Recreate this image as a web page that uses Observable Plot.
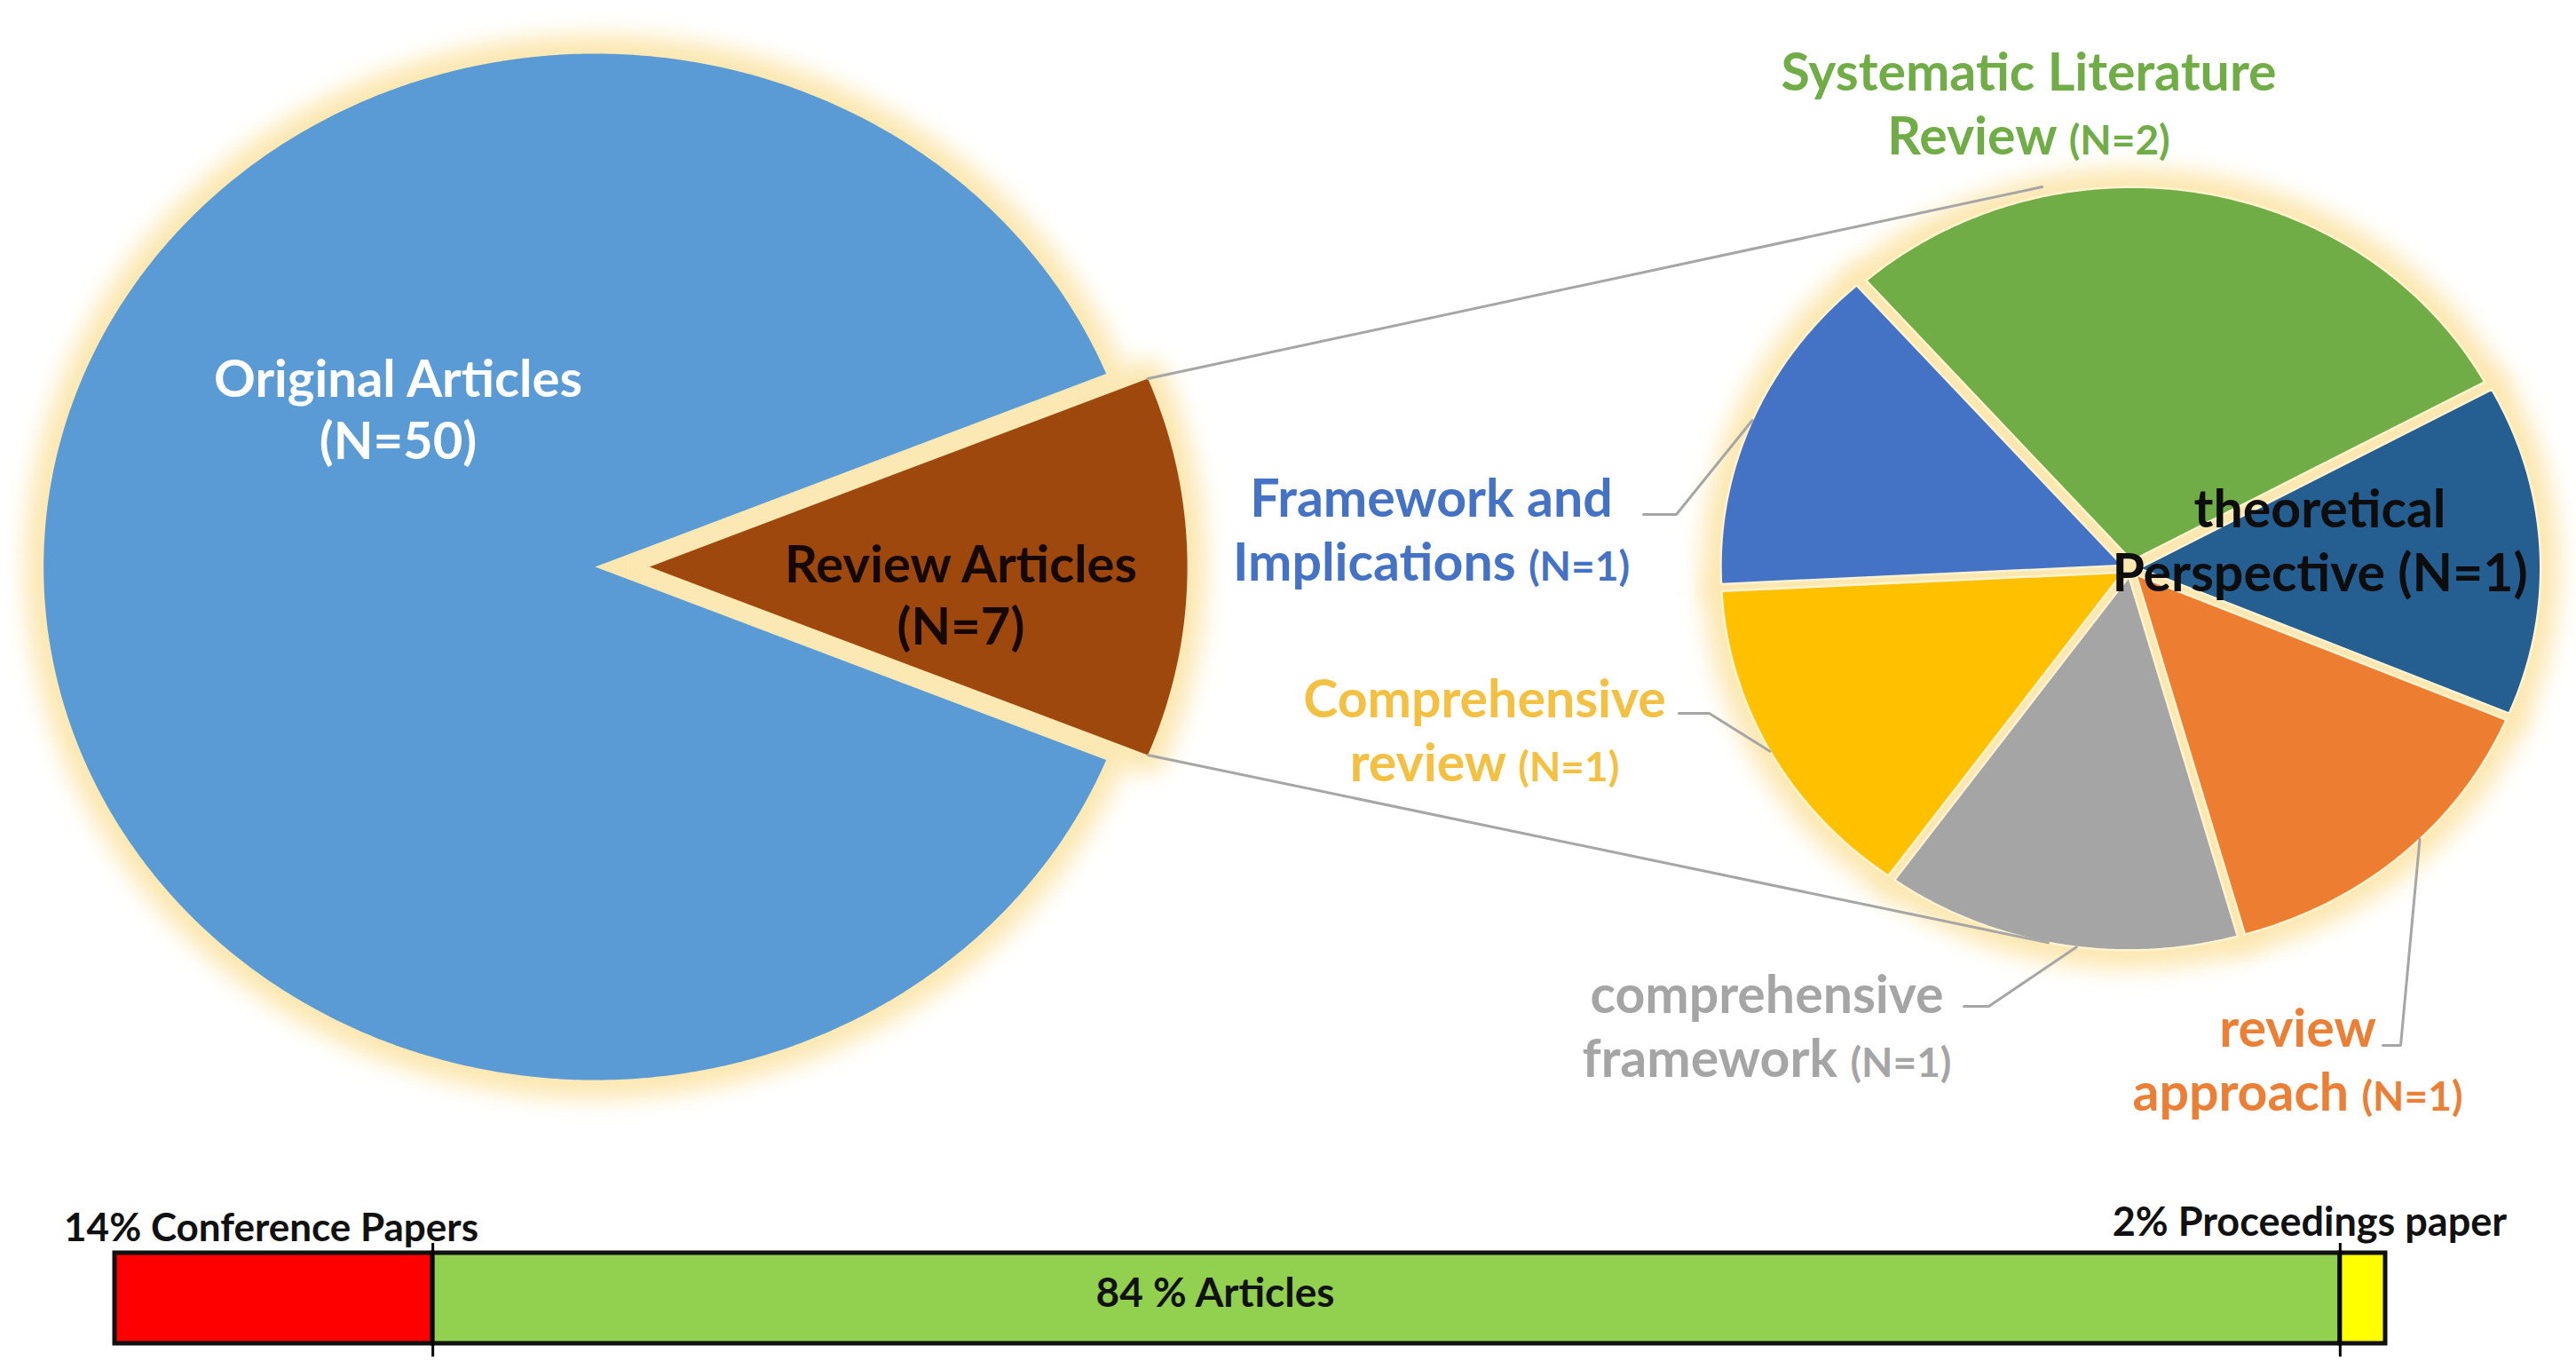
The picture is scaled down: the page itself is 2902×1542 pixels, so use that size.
<!DOCTYPE html>
<html>
<head>
<meta charset="utf-8">
<script src="https://cdn.jsdelivr.net/npm/d3@7"></script>
<script src="https://cdn.jsdelivr.net/npm/@observablehq/plot@0.6"></script>
<style>
  html, body { margin: 0; padding: 0; background: #ffffff; }
  #chart svg { display: block; }
</style>
</head>
<body>
<div id="chart"></div>
<script>
// ---------------- DATA ----------------
const mainCategories = ["Review Articles", "Original Articles"];
const mainCounts = [7, 50];

const reviewCategories = [
  "Systematic Literature Review",
  "theoretical Perspective",
  "review approach",
  "comprehensive framework",
  "Comprehensive review",
  "Framework and Implications"
];
const reviewCounts = [2, 1, 1, 1, 1, 1];

const sourceTypes = ["Conference Papers", "Articles", "Proceedings paper"];
const sourceShares = [14, 84, 2];

// ---------------- STYLES ----------------
const mainColors = { "Review Articles": "#9e480e", "Original Articles": "#5b9bd5" };
const mainTextColors = { "Review Articles": "#140800", "Original Articles": "#ffffff" };
const reviewColors = {
  "Systematic Literature Review": "#70ad47",
  "theoretical Perspective": "#255e91",
  "review approach": "#ed7d31",
  "comprehensive framework": "#a5a5a5",
  "Comprehensive review": "#ffc000",
  "Framework and Implications": "#4472c4"
};
const reviewTextColors = {
  "Systematic Literature Review": "#70ad47",
  "theoretical Perspective": "#0d0d0d",
  "review approach": "#ea7f35",
  "comprehensive framework": "#a5a5a5",
  "Comprehensive review": "#f4c042",
  "Framework and Implications": "#4472c4"
};
const sourceColors = { "Conference Papers": "#ff0000", "Articles": "#92d050", "Proceedings paper": "#ffff00" };
const GLOW = "#fce7b0";
const LINE_GRAY = "#a6a6a6";
const FONT = "Lato, 'Open Sans', sans-serif";

// ---------------- LAYOUT ----------------
const W = 2902, PIE_H = 1340, BAR_H = 202;
const STRETCH = 1.075; // horizontal stretch of the original picture

const mainPie = {
  cx: 670, cy: 638, r: 578,
  firstCenterDeg: 90,
  explode: { "Review Articles": 57 },
  radiusScale: { "Review Articles": 0.975 }
};
const detailPie = {
  cx: 2399.5, cy: 640, r: 421,
  firstCenterDeg: 10,
  explodeAll: 9
};

const mainLabelLayout = {
  "Original Articles": { x: 448, y: 459 },
  "Review Articles":   { x: 1082, y: 668 }
};
const detailLabelLayout = {
  "Systematic Literature Review": { x: 2285, y: 114, wrap: 2 },
  "theoretical Perspective":      { x: 2613, y: 606, wrap: 1, plainCount: true },
  "review approach":              { x: 2588, y: 1191, wrap: 1, leader: { dx: 96, dy: -14, elbow: 20, angleOffsetDeg: -3.5 } },
  "comprehensive framework":      { x: 1990, y: 1153, wrap: 1, leader: { dx: 222, dy: -20, elbow: 28, angleOffsetDeg: -2.5 } },
  "Comprehensive review":         { x: 1672, y: 820, wrap: 1, leader: { dx: 219, dy: -17, elbow: 34, angleOffsetDeg: 0 } },
  "Framework and Implications":   { x: 1612, y: 594, wrap: 2, leader: { dx: 239, dy: -15, elbow: 37, angleOffsetDeg: 0 } }
};
const connectors = [
  { corner: "start", angleDeg: -12.6, rScale: 1.025 },
  { corner: "end",   angleDeg: 191.6, rScale: 1.0 }
];

const bar = { left: 129, right: 2687, top: 71, bottom: 173 };
const barLabelLayout = {
  "Conference Papers": { dx: -3,   anchor: "top",    dy: -28, size: 44, sep: "% " },
  "Articles":          { dx: -193, anchor: "middle", dy: -5,  size: 46, sep: " % " },
  "Proceedings paper": { dx: -60,  anchor: "top",    dy: -34, size: 45, sep: "% " }
};

// ---------------- GEOMETRY ----------------
const rad = d => d * Math.PI / 180;

function buildSlices(categories, counts, P) {
  const total = d3.sum(counts);
  const start = rad(P.firstCenterDeg) - Math.PI * counts[0] / total;
  const arcs = d3.pie().sort(null).value(d => d.n)
    .startAngle(start).endAngle(start + 2 * Math.PI)(
      categories.map((c, i) => ({ c, n: counts[i] }))
    );
  return arcs.map(a => {
    const mid = (a.startAngle + a.endAngle) / 2;
    const e = (P.explode && P.explode[a.data.c]) ?? P.explodeAll ?? 0;
    const ox = P.cx + e * Math.sin(mid) * STRETCH;
    const oy = P.cy - e * Math.cos(mid);
    const r = P.r * ((P.radiusScale && P.radiusScale[a.data.c]) ?? 1);
    const at = (t, k = 1) => ({ x: ox + r * k * STRETCH * Math.sin(t), y: oy - r * k * Math.cos(t) });
    const n = Math.max(8, Math.ceil((a.endAngle - a.startAngle) / rad(0.5)));
    const pts = [{ x: ox, y: oy }];
    for (let k = 0; k <= n; k++) pts.push(at(a.startAngle + (a.endAngle - a.startAngle) * k / n));
    pts.push({ x: ox, y: oy });
    return { cat: a.data.c, n: a.data.n, start: a.startAngle, end: a.endAngle, mid, ox, oy, r, at, pts };
  });
}

const mainSlices = buildSlices(mainCategories, mainCounts, mainPie);
const detailSlices = buildSlices(reviewCategories, reviewCounts, detailPie);

function sliceAtAngle(slices, t) {
  const s0 = slices[0].start;
  const tt = ((t - s0) % (2 * Math.PI) + 2 * Math.PI) % (2 * Math.PI) + s0;
  return slices.find(s => tt >= s.start && tt <= s.end) || slices[0];
}

// ---------------- PIE PLOT ----------------
const marks = [];

for (const s of [...mainSlices, ...detailSlices]) {
  marks.push(Plot.line(s.pts, { x: "x", y: "y", fill: GLOW, stroke: GLOW, strokeWidth: 42, strokeLinejoin: "round" }));
}
for (const s of mainSlices) {
  marks.push(Plot.line(s.pts, { x: "x", y: "y", fill: mainColors[s.cat], stroke: "none" }));
}
for (const s of detailSlices) {
  marks.push(Plot.line(s.pts, { x: "x", y: "y", fill: reviewColors[s.cat], stroke: "#fff3d0",
    strokeWidth: 2.5, strokeLinejoin: "round" }));
}

const wedge = mainSlices.find(s => s.cat === "Review Articles");
for (const c of connectors) {
  const from = c.corner === "start" ? wedge.at(wedge.start) : wedge.at(wedge.end);
  const t = rad(c.angleDeg);
  const target = sliceAtAngle(detailSlices, t).at(t, c.rScale);
  marks.push(Plot.line([from, target], { x: "x", y: "y", stroke: LINE_GRAY, strokeWidth: 3 }));
}

for (const s of detailSlices) {
  const L = detailLabelLayout[s.cat];
  if (!L.leader) continue;
  const a = { x: L.x + L.leader.dx, y: L.y + L.leader.dy };
  const b = { x: a.x + L.leader.elbow, y: a.y };
  const c = s.at(s.mid + rad(L.leader.angleOffsetDeg), 1.0);
  marks.push(Plot.line([a, b, c], { x: "x", y: "y", stroke: LINE_GRAY, strokeWidth: 3, strokeLinejoin: "miter" }));
}

const mainLabelRows = mainCategories.map((c, i) => ({
  text: `${c}\n(N=${mainCounts[i]})`, fill: mainTextColors[c], ...mainLabelLayout[c]
}));
marks.push(Plot.text(mainLabelRows, {
  x: "x", y: "y", text: "text", fill: d => d.fill, fontSize: 58, fontWeight: "bold",
  lineHeight: 70 / 58, textAnchor: "middle", lineAnchor: "middle"
}));

function wrapLabel(cat, n, wrap) {
  const words = cat.split(" ");
  return `${words.slice(0, wrap).join(" ")}\n${words.slice(wrap).join(" ")} (N=${n})`;
}
const detailRows = reviewCategories.map((c, i) => ({
  cat: c, text: wrapLabel(c, reviewCounts[i], detailLabelLayout[c].wrap),
  fill: reviewTextColors[c], ...detailLabelLayout[c]
}));
marks.push(Plot.text(detailRows, {
  x: "x", y: "y", text: "text", fill: d => d.fill, fontSize: 59, fontWeight: "bold",
  lineHeight: 72 / 59, textAnchor: "middle", lineAnchor: "middle"
}));

const piePlot = Plot.plot({
  width: W, height: PIE_H, margin: 0,
  x: { domain: [0, W], range: [0, W], axis: null },
  y: { domain: [0, PIE_H], range: [0, PIE_H], axis: null },
  color: { type: "identity" },
  style: { fontFamily: FONT, background: "#ffffff" },
  marks
});

// glow filter
const NS = "http://www.w3.org/2000/svg";
const defs = document.createElementNS(NS, "defs");
const filter = document.createElementNS(NS, "filter");
filter.setAttribute("id", "glowBlur");
filter.setAttribute("x", "-30%"); filter.setAttribute("y", "-30%");
filter.setAttribute("width", "160%"); filter.setAttribute("height", "160%");
const blur = document.createElementNS(NS, "feGaussianBlur");
blur.setAttribute("stdDeviation", "13");
filter.appendChild(blur); defs.appendChild(filter);
piePlot.insertBefore(defs, piePlot.firstChild);
piePlot.querySelectorAll(`g[fill="${GLOW}"]`).forEach(g => g.setAttribute("filter", "url(#glowBlur)"));

// smaller "(N=..)" parts for the outside labels
const shrinkSet = new Set(detailRows.filter(d => !d.plainCount).map(d => d.text.replace("\n", "")));
piePlot.querySelectorAll("text").forEach(t => {
  if (!shrinkSet.has(t.textContent)) return;
  const spans = t.querySelectorAll("tspan");
  const targets = spans.length ? [...spans] : [t];
  targets.forEach(el => {
    const s = el.textContent;
    const i = s.indexOf("(N=");
    if (i < 0) return;
    el.textContent = s.slice(0, i);
    const ts = document.createElementNS(NS, "tspan");
    ts.setAttribute("font-size", "46");
    ts.textContent = s.slice(i);
    el.appendChild(ts);
  });
});

// ---------------- BAR PLOT ----------------
const sourceData = sourceTypes.map((t, i) => ({ type: t, share: sourceShares[i] }));
const cum = Array.from(d3.cumsum(sourceShares));
const boundaries = cum.slice(0, -1);

const barMarks = [
  Plot.barX(sourceData, { x: "share", fill: d => sourceColors[d.type], stroke: "#111111", strokeWidth: 5, order: null }),
  Plot.ruleX(boundaries, { x: d => d, stroke: "#000000", strokeWidth: 3, insetTop: -11, insetBottom: -15 })
];
sourceData.forEach((d, i) => {
  const L = barLabelLayout[d.type];
  barMarks.push(Plot.text([{ x: cum[i] - d.share / 2, text: `${d.share}${L.sep}${d.type}` }], {
    x: "x", text: "text", frameAnchor: L.anchor, lineAnchor: "middle", dx: L.dx, dy: L.dy,
    fontSize: L.size, fontWeight: "bold", fill: "#111111", textAnchor: "middle"
  }));
});

const barPlot = Plot.plot({
  width: W, height: BAR_H,
  marginLeft: bar.left, marginRight: W - bar.right, marginTop: bar.top, marginBottom: BAR_H - bar.bottom,
  x: { domain: [0, 100], axis: null },
  color: { type: "identity" },
  style: { fontFamily: FONT, background: "#ffffff" },
  marks: barMarks
});

const chart = document.getElementById("chart");
chart.appendChild(piePlot);
chart.appendChild(barPlot);
</script>
</body>
</html>
